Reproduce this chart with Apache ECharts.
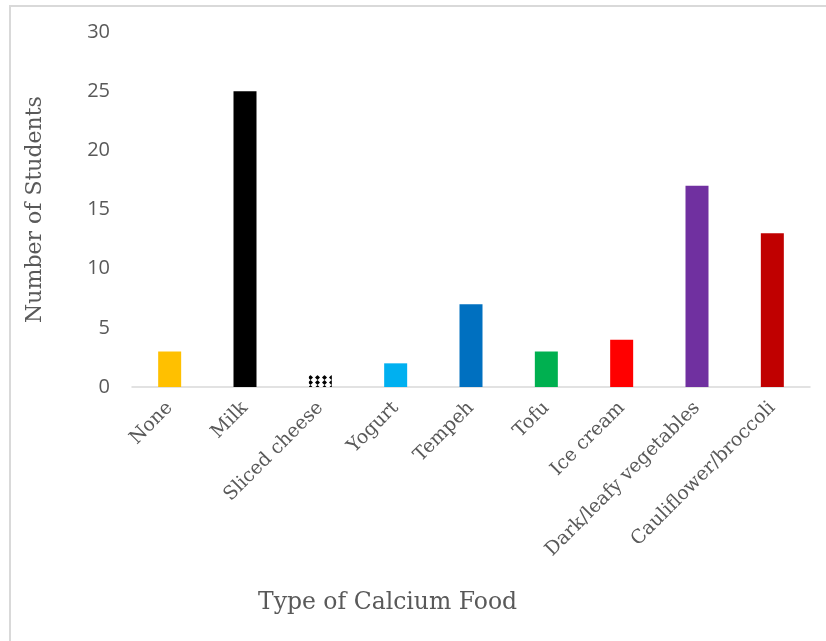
<!DOCTYPE html>
<html>
<head>
<meta charset="utf-8">
<script src="https://cdn.jsdelivr.net/npm/echarts@6/dist/echarts.min.js"></script>
<style>
  html, body { margin: 0; padding: 0; background: #fff; }
  #frame {
    position: absolute; left: 9px; top: 5px; width: 830px; height: 650px;
    border-left: 2px solid #d9d9d9; border-top: 2px solid #d9d9d9;
  }
  #chart { position: absolute; left: 0; top: 0; width: 826px; height: 641px; }
</style>
</head>
<body>
<div id="frame"></div>
<div id="chart"></div>
<script>
// 数据
var categories = ['None', 'Milk', 'Sliced cheese', 'Yogurt', 'Tempeh', 'Tofu',
  'Ice cream', 'Dark/leafy vegetables', 'Cauliflower/broccoli'];
var students = [3, 25, 1, 2, 7, 3, 4, 17, 13];
var barColors = ['#FFC000', '#000000', '#ffffff', '#00B0F0', '#0070C0', '#00B050',
  '#FF0000', '#7030A0', '#C00000'];
var yTicks = [0, 5, 10, 15, 20, 25, 30];

var serif = '"DejaVu Serif", serif';
var sans = '"Open Sans", sans-serif';

var barData = students.map(function (v, i) {
  var item = { value: v, itemStyle: { color: barColors[i] } };
  // sliced cheese 用花纹填充
  if (categories[i] === 'Sliced cheese') {
    item.itemStyle.decal = {
      symbol: 'diamond',
      symbolSize: 1,
      color: '#000',
      backgroundColor: '#fff',
      dashArrayX: [[5, 2]],
      dashArrayY: [5, 0]
    };
  }
  return item;
});

var myChart = echarts.init(document.getElementById('chart'));
var option = {
  animation: false,
  title: {
    text: 'Type of Calcium Food',
    left: 253,
    top: 586,
    textStyle: { fontFamily: serif, fontSize: 23.5, fontWeight: 'normal', color: '#595959' }
  },
  grid: { left: 132, right: 16, top: 32, bottom: 254 },
  xAxis: {
    type: 'category',
    data: categories,
    axisTick: { show: false },
    axisLine: { lineStyle: { color: '#d9d9d9', width: 1.5 } },
    axisLabel: {
      rotate: 45,
      margin: 18,
      interval: 0,
      fontFamily: serif,
      fontSize: 19,
      color: '#595959'
    }
  },
  yAxis: {
    type: 'value',
    min: yTicks[0],
    max: yTicks[yTicks.length - 1],
    interval: 5,
    name: 'Number of Students',
    nameLocation: 'middle',
    nameGap: 86,
    nameTextStyle: { fontFamily: serif, fontSize: 22, color: '#595959' },
    splitLine: { show: false },
    axisLine: { show: false },
    axisTick: { show: false },
    axisLabel: { margin: 22, fontFamily: sans, fontSize: 20, color: '#595959' }
  },
  series: [{
    type: 'bar',
    data: barData,
    barWidth: 23
  }]
};
myChart.setOption(option);
</script>
</body>
</html>
